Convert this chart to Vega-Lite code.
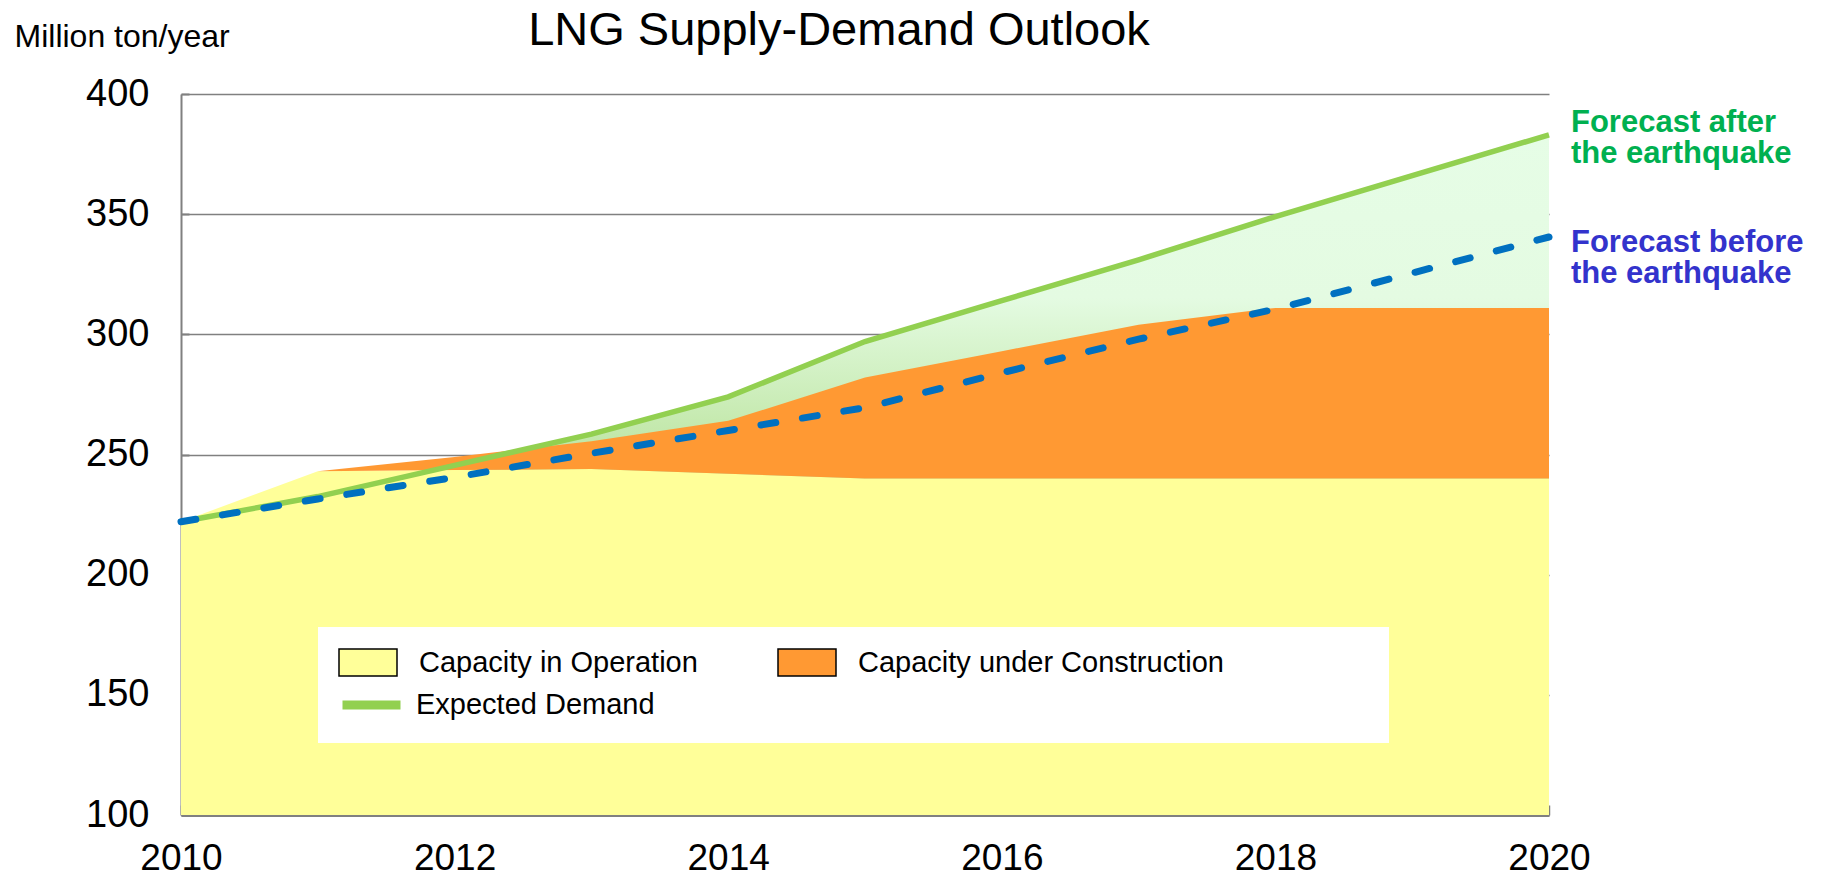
{
  "$schema": "https://vega.github.io/schema/vega-lite/v6.json",
  "autosize": "none",
  "width": 1368,
  "height": 721,
  "padding": {"left": 181, "top": 94, "right": 278, "bottom": 63},
  "background": "white",
  "config": {
    "view": {"stroke": null},
    "font": "Liberation Sans",
    "axisY": {
      "tickCount": 7,
      "domainColor": "#808080",
      "domainWidth": 2,
      "gridColor": "#808080",
      "gridWidth": 1.5,
      "tickColor": "#808080",
      "tickWidth": 2,
      "tickSize": -8,
      "labelFontSize": 38,
      "labelColor": "black",
      "labelPadding": 40,
      "titleAngle": 0,
      "titleAlign": "left",
      "titleBaseline": "alphabetic",
      "titleX": -167,
      "titleY": -48,
      "titleFontSize": 32,
      "titleFontWeight": "normal",
      "titleColor": "black"
    },
    "axisX": {
      "tickCount": 10,
      "grid": false,
      "domainColor": "#808080",
      "domainWidth": 3,
      "tickColor": "#808080",
      "tickWidth": 1.5,
      "tickSize": -10,
      "labelFontSize": 37,
      "labelColor": "black",
      "labelPadding": 35,
      "labelExpr": "datum.value % 2 == 0 ? datum.value : ''",
      "labelFlush": false,
      "title": null
    },
    "legend": {
      "labelFontSize": 29,
      "labelFont": "Liberation Sans",
      "labelColor": "black",
      "labelOffset": 55,
      "labelLimit": 3000,
      "symbolSize": 841,
      "symbolOpacity": 1
    }
  },
  "title": {
    "text": "LNG Supply-Demand Outlook",
    "fontSize": 47,
    "font": "Liberation Sans",
    "fontWeight": "normal",
    "color": "black",
    "anchor": "middle",
    "frame": "group",
    "dx": -26,
    "offset": -72,
    "baseline": "alphabetic"
  },
  "datasets": {
    "capacity": [
      {"year": 2010, "series": "Capacity in Operation", "value": 222},
      {"year": 2011, "series": "Capacity in Operation", "value": 243},
      {"year": 2012, "series": "Capacity in Operation", "value": 243.5},
      {"year": 2013, "series": "Capacity in Operation", "value": 244},
      {"year": 2014, "series": "Capacity in Operation", "value": 242},
      {"year": 2015, "series": "Capacity in Operation", "value": 240},
      {"year": 2016, "series": "Capacity in Operation", "value": 240},
      {"year": 2017, "series": "Capacity in Operation", "value": 240},
      {"year": 2018, "series": "Capacity in Operation", "value": 240},
      {"year": 2019, "series": "Capacity in Operation", "value": 240},
      {"year": 2020, "series": "Capacity in Operation", "value": 240},
      {"year": 2010, "series": "Capacity under Construction", "value": 0},
      {"year": 2011, "series": "Capacity under Construction", "value": 0},
      {"year": 2012, "series": "Capacity under Construction", "value": 5.5},
      {"year": 2013, "series": "Capacity under Construction", "value": 11.5},
      {"year": 2014, "series": "Capacity under Construction", "value": 22},
      {"year": 2015, "series": "Capacity under Construction", "value": 42},
      {"year": 2016, "series": "Capacity under Construction", "value": 53},
      {"year": 2017, "series": "Capacity under Construction", "value": 64},
      {"year": 2018, "series": "Capacity under Construction", "value": 71},
      {"year": 2019, "series": "Capacity under Construction", "value": 71},
      {"year": 2020, "series": "Capacity under Construction", "value": 71}
    ],
    "demand": [
      {"year": 2010, "after": 222, "before": 222},
      {"year": 2011, "after": 232.5, "before": 231.5},
      {"year": 2012, "after": 245.5, "before": 240.5},
      {"year": 2013, "after": 258.5, "before": 250.5},
      {"year": 2014, "after": 274, "before": 260},
      {"year": 2015, "after": 297, "before": 269.5},
      {"year": 2016, "after": 314, "before": 284},
      {"year": 2017, "after": 331, "before": 298},
      {"year": 2018, "after": 349, "before": 310.5},
      {"year": 2019, "after": 366, "before": 325.5},
      {"year": 2020, "after": 383, "before": 340.5}
    ]
  },
  "encoding": {
    "x": {
      "field": "year",
      "type": "quantitative",
      "scale": {"domain": [2010, 2020], "nice": false, "zero": false},
      "axis": {"format": "d"}
    }
  },
  "layer": [
    {
      "data": {"name": "demand"},
      "mark": {
        "type": "area",
        "opacity": 1,
        "clip": true,
        "fill": {
          "gradient": "linear",
          "x1": 0, "y1": 0, "x2": 0, "y2": 1,
          "stops": [
            {"offset": 0, "color": "#E6FDE6"},
            {"offset": 0.24, "color": "#E4FBE2"},
            {"offset": 0.42, "color": "#C6EAB0"},
            {"offset": 0.47, "color": "#BEE5A6"},
            {"offset": 1, "color": "#BEE5A6"}
          ]
        }
      },
      "encoding": {
        "y": {"field": "after", "type": "quantitative", "title": "Million ton/year", "scale": {"domain": [100, 400], "nice": false, "zero": false}},
        "y2": {"datum": 100}
      }
    },
    {
      "data": {"name": "capacity"},
      "mark": {"type": "area", "opacity": 1, "clip": true},
      "encoding": {
        "y": {"field": "value", "type": "quantitative", "stack": "zero", "title": "Million ton/year"},
        "fill": {
          "field": "series",
          "type": "nominal",
          "scale": {
            "domain": ["Capacity in Operation", "Capacity under Construction"],
            "range": ["#FFFF99", "#FF9933"]
          },
          "legend": {
            "orient": "none",
            "direction": "horizontal",
            "legendX": 137,
            "legendY": 533,
            "columnPadding": 77,
            "labelOffset": 50,
            "padding": 20,
            "fillColor": null,
            "strokeColor": null,
            "title": null,
            "zindex": 2,
            "symbolType": "M-1,-0.93H3V0.93H-1Z",
            "symbolStrokeColor": "black",
            "symbolStrokeWidth": 1.5
          }
        },
        "order": {"field": "series", "sort": "ascending"}
      }
    },
    {
      "data": {"name": "demand"},
      "mark": {"type": "line", "strokeWidth": 5.5, "opacity": 1},
      "encoding": {
        "y": {"field": "after", "type": "quantitative", "title": "Million ton/year"},
        "stroke": {
          "datum": "Expected Demand",
          "type": "nominal",
          "scale": {"domain": ["Expected Demand"], "range": ["#92D050"]},
          "legend": {
            "orient": "none",
            "direction": "vertical",
            "legendX": 137,
            "legendY": 533,
            "padding": 20,
            "fillColor": "white",
            "strokeColor": null,
            "zindex": 1,
            "labelOffset": 40,
            "labelExpr": "datum.label + '\u2800\u2800\u2800\u2800\u2800\u2800\u2800\u2800\u2800\u2800\u2800\u2800\u2800\u2800\u2800\u2800\u2800\u2800\u2800\u2800\u2800\u2800\u2800\u2800\u2800\u2800\u2800\u2800\u2800\u2800\u2800\u2800\u2800\u2800'",
            "title": "\u2800",
            "titleAnchor": "end",
            "titleFontSize": 29,
            "titleLimit": 3000,
            "titlePadding": 10,
            "symbolType": "M-1,0H3",
            "symbolStrokeWidth": 9
          }
        }
      }
    },
    {
      "data": {"name": "demand"},
      "mark": {"type": "line", "stroke": "#0070C0", "strokeWidth": 7, "strokeDash": [15, 27], "strokeCap": "round", "opacity": 1},
      "encoding": {
        "y": {"field": "before", "type": "quantitative", "title": "Million ton/year"}
      }
    },
    {
      "data": {"name": "demand"},
      "transform": [{"filter": "datum.year == 2020"}],
      "mark": {"type": "text", "text": "Forecast after\nthe earthquake", "lineBreak": "\n", "align": "left", "baseline": "alphabetic", "dx": 22, "dy": -3, "font": "Liberation Sans", "fontSize": 31, "fontWeight": "bold", "lineHeight": 31.5, "fill": "#00B050"},
      "encoding": {
        "y": {"field": "after", "type": "quantitative", "title": "Million ton/year"}
      }
    },
    {
      "data": {"name": "demand"},
      "transform": [{"filter": "datum.year == 2020"}],
      "mark": {"type": "text", "text": "Forecast before\nthe earthquake", "lineBreak": "\n", "align": "left", "baseline": "alphabetic", "dx": 22, "dy": 15, "font": "Liberation Sans", "fontSize": 31, "fontWeight": "bold", "lineHeight": 31.5, "fill": "#3333CC"},
      "encoding": {
        "y": {"field": "before", "type": "quantitative", "title": "Million ton/year"}
      }
    }
  ]
}
